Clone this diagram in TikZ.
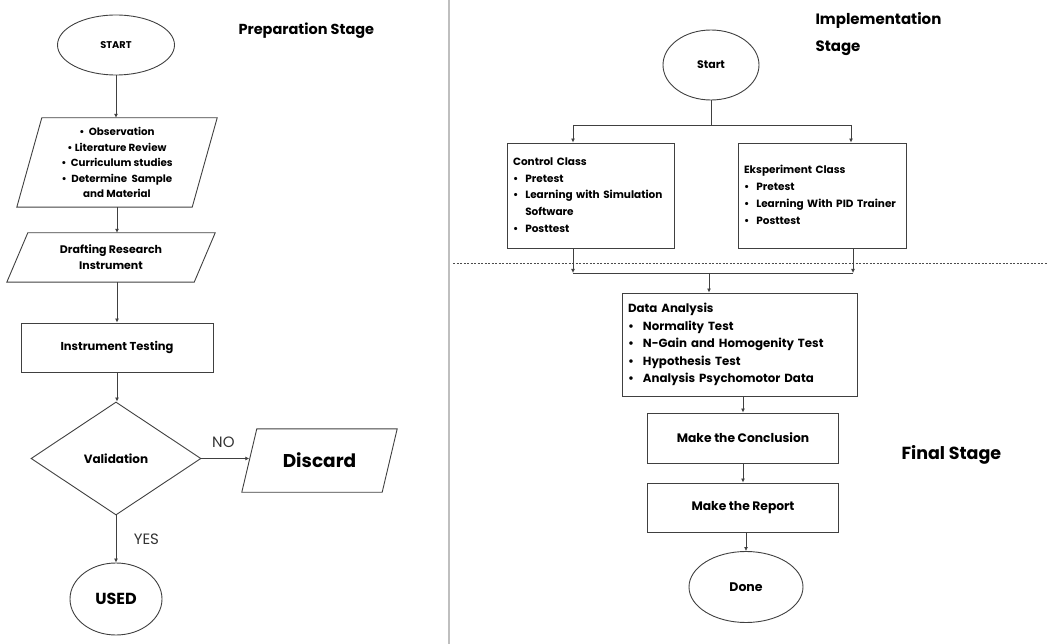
\documentclass[tikz,border=0pt]{standalone}
\usepackage{fontspec}
\setmainfont{Poppins}
\usetikzlibrary{shapes.geometric,arrows.meta,positioning,calc}

\tikzset{
  base/.style={draw=black!75, line width=0.9pt, inner sep=0pt},
  term/.style={base, ellipse},
  proc/.style={base, rectangle},
  decision/.style={base, diamond},
  slanted/.style={inner sep=0pt, align=center},
  listbox/.style={proc, inner xsep=6pt, align=left},
  flow/.style={draw=black!75, line width=0.9pt, -{Latex[length=4pt,width=4pt]}},
  link/.style={draw=black!75, line width=0.9pt},
  stage/.style={font=\bfseries\fontsize{15}{27}\selectfont, align=left, anchor=west},
  answer/.style={font=\fontsize{15}{16}\selectfont, text=black!80},
}

\begin{document}
\begin{tikzpicture}[x=1pt,y=-1pt]
    \useasboundingbox (0,0) rectangle (1047,644);
    % stage borders
    \draw[black!25, line width=2pt] (449,0) -- (449,644);
    \draw[black!70, line width=0.6pt, dash pattern=on 2pt off 1.5pt] (453,263) -- (1047,263);

    % preparation stage
    \node[stage, font=\bfseries\fontsize{14.5}{27}\selectfont] (prep) at (235,31) {Preparation Stage};
    \node[term, minimum width=117, minimum height=60,
      font=\bfseries\fontsize{9.8}{11}\selectfont] (start) at (116,45) {START};
    \node[slanted, minimum width=175, minimum height=89,
      font=\bfseries\fontsize{10.3}{15.5}\selectfont] (lit) at (117,162.5)
      {• \ Observation\\ • Literature Review\\ • \ Curriculum studies\\
       • \ Determine \ Sample\\ and Material};
    \node[slanted, minimum width=187, minimum height=49,
      font=\bfseries\fontsize{11}{16}\selectfont] (draft) at (111,257.5)
      {Drafting Research\\ Instrument};
    \node[proc, minimum width=192, minimum height=49,
      font=\bfseries\fontsize{11.5}{13}\selectfont] (test) at (117,347.5) {Instrument Testing};
    \node[decision, minimum width=170, minimum height=113,
      font=\bfseries\fontsize{12}{13}\selectfont] (valid) at (116,458.5) {Validation};
    \node[slanted, minimum width=140, minimum height=63,
      font=\bfseries\fontsize{18.5}{20}\selectfont] (disc) at (319.5,460.5) {Discard};
    \node[term, minimum width=92, minimum height=72,
      font=\bfseries\fontsize{16}{16}\selectfont] (used) at (116,599) {USED};
    \foreach \n/\s in {lit/12.5, draft/10.5, disc/7.5}
      \draw[link] ([xshift=-\s]\n.south west) -- ([xshift=\s]\n.north west)
        -- ([xshift=\s]\n.north east) -- ([xshift=-\s]\n.south east) -- cycle;

    \draw[flow] (start) -- (start |- lit.north);
    \draw[flow] (lit.south) -- (lit.south |- draft.north);
    \draw[flow] (lit.south |- draft.south) -- (lit.south |- test.north);
    \draw[flow] (test.south) -- (test.south |- valid.north);
    \draw[flow] (valid.east) -- (valid.east -| disc.west)
      node[answer, midway, above=7pt, xshift=-2pt] (no) {NO};
    \draw[flow] (valid.south) -- (valid.south |- used.north)
      node[answer, midway, right=14pt] (yes) {YES};

    % implementation stage
    \node[stage] (impl) at (812,34) {Implementation\\ Stage};
    \node[term, minimum width=96, minimum height=70,
      font=\bfseries\fontsize{11}{12}\selectfont] (start2) at (711,65) {Start};
    \node[listbox, minimum width=167, minimum height=105, text width=155,
      font=\bfseries\fontsize{10.5}{16.8}\selectfont] (ctrl) at (590.5,195.5)
      {\begin{tabular}{@{}l@{\hspace{7pt}}l@{}}
        \multicolumn{2}{@{}l}{Control Class}\\
        • & Pretest\\
        • & Learning with Simulation\\
          & Software\\
        • & Posttest
       \end{tabular}};
    \node[listbox, minimum width=168, minimum height=105, text width=156,
      font=\bfseries\fontsize{10.5}{16.8}\selectfont] (eks) at (822,195.5)
      {\begin{tabular}{@{}l@{\hspace{7pt}}l@{}}
        \multicolumn{2}{@{}l}{Eksperiment Class}\\
        • & Pretest\\
        • & Learning With PID Trainer\\
        • & Posttest
       \end{tabular}};
    \coordinate (bl) at (573,125);
    \coordinate (br) at (851,125);
    \draw[link] (start2) -- (start2 |- bl);
    \draw[link] (bl) -- (br);
    \draw[flow] (bl) -- (bl |- ctrl.north);
    \draw[flow] (br) -- (br |- eks.north);

    % final stage
    \node[stage, font=\bfseries\fontsize{17.5}{27}\selectfont] (final) at (898,455) {Final Stage};
    \node[listbox, minimum width=235, minimum height=103, text width=223,
      font=\bfseries\fontsize{11.8}{17.5}\selectfont] (data) at (739.5,344.5)
      {\begin{tabular}{@{}l@{\hspace{9pt}}l@{}}
        \multicolumn{2}{@{}l}{Data Analysis}\\
        • & Normality Test\\
        • & N-Gain and Homogenity Test\\
        • & Hypothesis Test\\
        • & Analysis Psychomotor Data
       \end{tabular}};
    \node[proc, minimum width=191, minimum height=50,
      font=\bfseries\fontsize{12.3}{13}\selectfont] (concl) at (743,438) {Make the Conclusion};
    \node[proc, minimum width=191, minimum height=49,
      font=\bfseries\fontsize{12.3}{13}\selectfont] (report) at (743,507.5) {Make the Report};
    \node[term, minimum width=114, minimum height=71,
      font=\bfseries\fontsize{12.5}{14}\selectfont] (done) at (746,587) {Done};
    \coordinate (ml) at (573,273);
    \coordinate (mr) at (853,273);
    \coordinate (mc) at (709,273);
    \draw[flow] (ml |- ctrl.south) -- (ml);
    \draw[flow] (mr |- eks.south) -- (mr);
    \draw[link] (ml) -- (mr);
    \draw[flow] (mc) -- (mc |- data.north);
    \draw[flow] (concl.north |- data.south) -- (concl.north);
    \draw[flow] (concl.south) -- (report.north);
    \draw[flow] (report.south -| done) -- (done);
\end{tikzpicture}
\end{document}
